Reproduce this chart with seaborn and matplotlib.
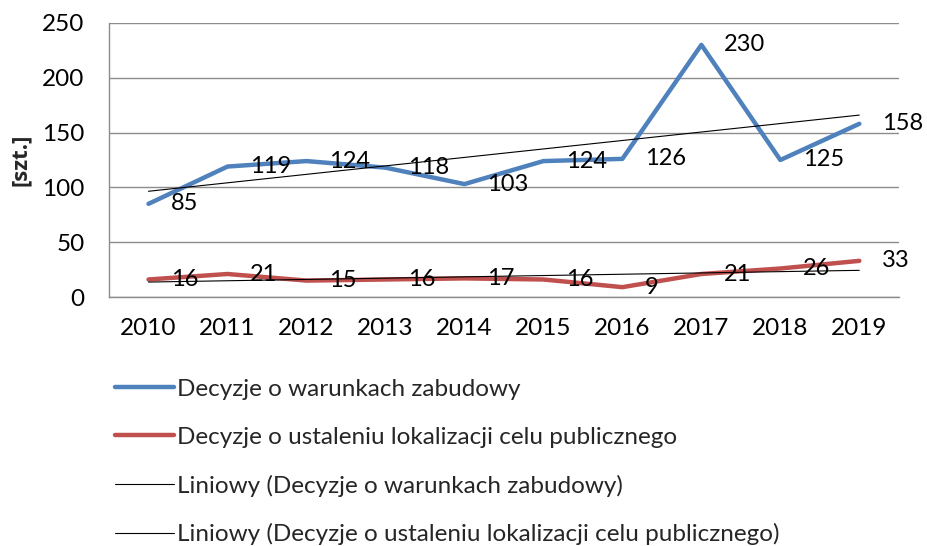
import numpy as np
import pandas as pd
import matplotlib
matplotlib.use("Agg")
import matplotlib.pyplot as plt
import seaborn as sns

years = ["2010", "2011", "2012", "2013", "2014", "2015", "2016", "2017", "2018", "2019"]
warunki = [85, 119, 124, 118, 103, 124, 126, 230, 125, 158]
lokalizacja = [16, 21, 15, 16, 17, 16, 9, 21, 26, 33]

name_w = "Decyzje o warunkach zabudowy"
name_l = "Decyzje o ustaleniu lokalizacji celu publicznego"
trend_w = "Liniowy (Decyzje o warunkach zabudowy)"
trend_l = "Liniowy (Decyzje o ustaleniu lokalizacji celu publicznego)"

BLUE = "#4F81BD"
RED = "#C0504D"
GRID = "#8C8C8C"
FS = 17

sns.set_theme(style="white")
plt.rcParams["font.family"] = ["Lato", "DejaVu Sans"]

pos = np.arange(len(years))
df = pd.DataFrame({
    "pos": np.concatenate([pos, pos]),
    "value": warunki + lokalizacja,
    "series": [name_w] * len(years) + [name_l] * len(years),
})

fig = plt.figure(figsize=(9.27, 5.46), dpi=100)
ax = fig.add_axes([0.1176, 0.456, 0.852, 0.502])

sns.lineplot(data=df, x="pos", y="value", hue="series",
             palette={name_w: BLUE, name_l: RED}, linewidth=3.2,
             ax=ax, legend=False, zorder=3)

# linear trend lines
tw = np.polyval(np.polyfit(pos, warunki, 1), pos)
tl = np.polyval(np.polyfit(pos, lokalizacja, 1), pos)
sns.lineplot(x=pos, y=tw, color="black", linewidth=0.8, ax=ax, zorder=4)
sns.lineplot(x=pos, y=tl, color="black", linewidth=0.8, ax=ax, zorder=4)

# value labels to the right of each point
for vals in (warunki, lokalizacja):
    for x, v in zip(pos, vals):
        ax.annotate(str(v), (x, v), xytext=(16, 0), textcoords="offset points",
                    ha="left", va="center", fontsize=FS, color="black", zorder=5)

ax.set_xlim(-0.5, 9.5)
ax.set_ylim(0, 250)
ax.set_yticks(range(0, 251, 50))
ax.set_xticks(pos)
ax.set_xticklabels(years)
ax.set_xlabel("")
ax.set_ylabel("[szt.]", fontsize=16, fontweight="bold",
              family=["Open Sans", "DejaVu Sans"], labelpad=8)
ax.tick_params(axis="both", labelsize=FS + 0.5, colors="black")
ax.tick_params(axis="y", length=6.5, color=GRID, width=1, pad=11)
ax.tick_params(axis="x", length=0, pad=15)
ax.yaxis.grid(True, color=GRID, linewidth=1)
ax.set_axisbelow(True)
for side in ("top", "right"):
    ax.spines[side].set_visible(False)
for side in ("left", "bottom"):
    ax.spines[side].set_color(GRID)
    ax.spines[side].set_linewidth(1)

handles = [
    plt.Line2D([], [], color=BLUE, linewidth=3.2),
    plt.Line2D([], [], color=RED, linewidth=3.2),
    plt.Line2D([], [], color="black", linewidth=0.8),
    plt.Line2D([], [], color="black", linewidth=0.8),
]
fig.legend(handles, [name_w, name_l, trend_w, trend_l],
           loc="upper left", bbox_to_anchor=(0.124, 0.306),
           frameon=False, fontsize=FS + 0.5, handlelength=2.45, handletextpad=0.12,
           labelspacing=1.1, borderaxespad=0, borderpad=0)

fig.savefig("out.png", dpi=100)
